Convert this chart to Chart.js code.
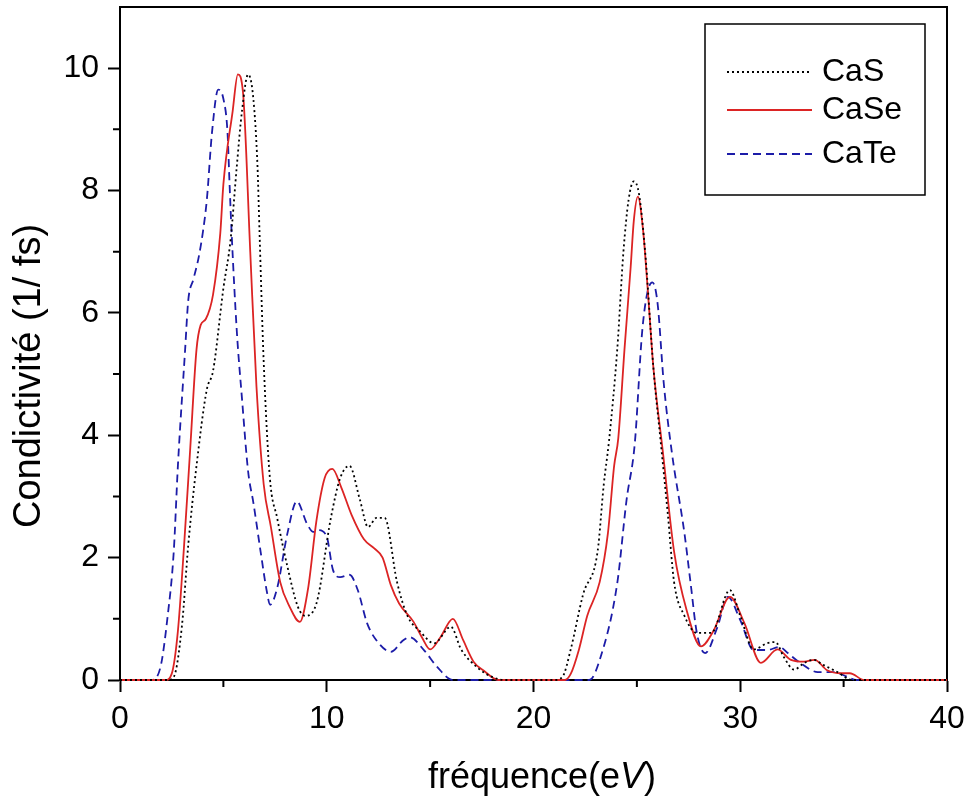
<!DOCTYPE html>
<html>
<head>
<meta charset="utf-8">
<script src="https://cdn.jsdelivr.net/npm/chart.js@4.4.1/dist/chart.umd.min.js"></script>
<style>
  html, body { margin: 0; padding: 0; background: #fff; }
  canvas { display: block; }
</style>
</head>
<body>
<canvas id="chart" width="968" height="803"></canvas>
<script>
// energies (eV) and conductivity (1/fs)
var seriesNames = ['CaS', 'CaSe', 'CaTe'];

var casEnergy = [0, 2.3, 2.6, 3.0, 3.3, 3.7, 4.2, 4.5, 5.0, 5.35, 5.65, 5.9, 6.2, 6.45, 6.65, 6.75, 6.95, 7.25, 7.6, 8.1,
  8.6, 8.95, 9.5, 10.2, 10.65, 11.1, 11.6, 12.0, 12.4, 12.8, 13.4, 13.9, 14.5, 15.2, 16.0, 16.5, 17.3, 18.0, 18.6, 21.0,
  21.4, 21.8, 22.4, 23.1, 23.4, 23.65, 24.05, 24.35, 24.6, 24.85, 25.1, 25.4, 25.8, 26.15, 26.5, 26.8, 27.3, 27.9, 28.6, 29.5,
  30.0, 30.65, 31.3, 31.7, 32.1, 32.6, 33.1, 33.55, 34.0, 34.7, 35.4, 40];
var casValues = [0, 0, 0.05, 0.9, 2.2, 3.5, 4.75, 5.05, 6.4, 7.2, 8.4, 9.3, 9.9, 9.5, 8.4, 7.3, 5.2, 3.3, 2.65, 1.85,
  1.2, 1.05, 1.25, 2.65, 3.3, 3.5, 2.95, 2.5, 2.65, 2.65, 1.6, 1.05, 0.8, 0.6, 0.87, 0.5, 0.2, 0.05, 0, 0,
  0.05, 0.5, 1.4, 2.1, 3.2, 3.9, 5.4, 7.0, 7.85, 8.15, 7.95, 7.0, 5.1, 3.9, 2.7, 1.6, 1.05, 0.77, 0.77, 1.47,
  1.05, 0.5, 0.6, 0.62, 0.38, 0.17, 0.28, 0.33, 0.25, 0.13, 0, 0];

var caseEnergy = [0, 2.2, 2.5, 2.8, 3.1, 3.4, 3.7, 3.9, 4.15, 4.5, 4.85, 5.0, 5.45, 5.7, 5.95, 6.3, 6.6, 6.95, 7.3, 7.75,
  8.2, 8.7, 9.1, 9.5, 9.9, 10.27, 10.7, 11.2, 11.8, 12.3, 12.7, 13.1, 13.5, 14.2, 14.6, 15.0, 15.5, 16.1, 16.6, 17.1,
  17.6, 18.3, 21.5, 21.8, 22.2, 22.6, 23.2, 23.6, 23.9, 24.1, 24.4, 24.7, 24.85, 25.05, 25.3, 25.5, 25.8, 26.25, 26.8, 27.4,
  28.1, 28.7, 29.5, 30.2, 31.0, 31.8, 32.45, 33.1, 33.6, 34.2, 34.9, 35.3, 36.0, 40];
var caseValues = [0, 0, 0.1, 0.8, 2.2, 3.8, 5.4, 5.8, 5.9, 6.3, 7.3, 8.1, 9.3, 9.9, 9.6, 7.0, 4.8, 3.2, 2.5, 1.6,
  1.2, 0.95, 1.5, 2.6, 3.3, 3.45, 3.15, 2.7, 2.3, 2.15, 2.0, 1.55, 1.25, 0.95, 0.7, 0.5, 0.7, 1.0, 0.65, 0.3,
  0.15, 0, 0, 0.1, 0.5, 1.05, 1.6, 2.4, 3.5, 3.95, 5.4, 6.75, 7.5, 7.9, 7.35, 6.5, 5.1, 3.75, 2.1, 1.15,
  0.55, 0.8, 1.36, 0.93, 0.28, 0.5, 0.33, 0.3, 0.33, 0.16, 0.11, 0.11, 0, 0];

var cateEnergy = [0, 1.5, 1.95, 2.3, 2.6, 2.8, 3.15, 3.3, 3.55, 3.8, 4.0, 4.2, 4.45, 4.75, 5.0, 5.2, 5.3, 5.4, 5.65, 5.9,
  6.2, 6.45, 6.8, 7.1, 7.26, 7.6, 8.1, 8.55, 9.05, 9.35, 9.6, 10.0, 10.3, 10.65, 11.1, 11.5, 11.95, 12.4, 13.1, 13.7,
  14.0, 14.7, 15.35, 16.1, 22.7, 23.25, 24.05, 24.5, 24.9, 25.25, 25.5, 25.75, 26.0, 26.3, 26.7, 27.3, 27.6, 27.9, 28.3, 28.9,
  29.4, 30.0, 30.65, 31.3, 31.9, 32.3, 32.9, 33.75, 34.5, 35.2, 35.6, 40];
var cateValues = [0, 0, 0.2, 1.03, 2.1, 3.5, 5.4, 6.2, 6.55, 6.9, 7.3, 7.85, 8.95, 9.65, 9.5, 8.95, 8.1, 7.3, 5.7, 4.6,
  3.4, 2.9, 2.1, 1.45, 1.23, 1.5, 2.4, 2.92, 2.55, 2.42, 2.45, 2.34, 1.8, 1.68, 1.72, 1.47, 0.93, 0.65, 0.46, 0.65,
  0.7, 0.49, 0.21, 0, 0, 0.38, 1.58, 2.94, 3.87, 5.67, 6.32, 6.5, 6.16, 4.85, 3.7, 2.4, 1.58, 0.77, 0.44, 0.87,
  1.36, 0.98, 0.49, 0.49, 0.54, 0.44, 0.28, 0.13, 0.13, 0.05, 0, 0];

var xTitle = ['fréquence(e', 'V', ')'];
var yTitle = 'Condictivité (1/ fs)';

function toPoints(xs, ys) {
  return xs.map(function (v, i) { return { x: v, y: ys[i] }; });
}

var FONT = "'Liberation Sans', Arial, sans-serif";

var decor = {
  id: 'decor',
  beforeDatasetsDraw: function (chart) {
    var ctx = chart.ctx, a = chart.chartArea, x = chart.scales.x, y = chart.scales.y;
    ctx.save();
    ctx.strokeStyle = '#000';
    ctx.lineWidth = 2;
    ctx.strokeRect(a.left, a.top, a.right - a.left, a.bottom - a.top);
    // minor ticks
    ctx.beginPath();
    for (var v = 5; v < 40; v += 10) {
      var px = x.getPixelForValue(v);
      ctx.moveTo(px, a.bottom); ctx.lineTo(px, a.bottom + 7);
    }
    for (var w = 1; w < 11; w += 2) {
      var py = y.getPixelForValue(w);
      ctx.moveTo(a.left, py); ctx.lineTo(a.left - 7, py);
    }
    ctx.stroke();
    ctx.restore();
  },
  afterDraw: function (chart) {
    var ctx = chart.ctx, a = chart.chartArea;
    ctx.save();
    ctx.fillStyle = '#000';

    // y title
    ctx.save();
    ctx.translate(30, 376);
    ctx.rotate(-Math.PI / 2);
    ctx.font = '38px ' + FONT;
    ctx.textAlign = 'center';
    ctx.textBaseline = 'middle';
    ctx.fillText(yTitle, 0, 0);
    ctx.restore();

    // x title, with italic V
    ctx.textBaseline = 'alphabetic';
    ctx.textAlign = 'left';
    var fN = '36px ' + FONT, fI = 'italic 36px ' + FONT;
    ctx.font = fN; var w0 = ctx.measureText(xTitle[0]).width, w2 = ctx.measureText(xTitle[2]).width;
    ctx.font = fI; var w1 = ctx.measureText(xTitle[1]).width;
    var sx = 542 - (w0 + w1 + w2) / 2, by = 788;
    ctx.font = fN; ctx.fillText(xTitle[0], sx, by);
    ctx.font = fI; ctx.fillText(xTitle[1], sx + w0, by);
    ctx.font = fN; ctx.fillText(xTitle[2], sx + w0 + w1, by);

    // legend
    var bx = a.right - 242, byy = a.top + 17, bw = 220, bh = 171;
    ctx.fillStyle = '#fff';
    ctx.fillRect(bx, byy, bw, bh);
    ctx.strokeStyle = '#000';
    ctx.lineWidth = 1.5;
    ctx.strokeRect(bx, byy, bw, bh);
    var rows = [48, 86, 130];
    chart.data.datasets.forEach(function (ds, i) {
      var ly = byy + rows[i];
      ctx.save();
      ctx.strokeStyle = ds.borderColor;
      ctx.lineWidth = ds.borderWidth;
      ctx.setLineDash(ds.borderDash || []);
      ctx.beginPath();
      ctx.moveTo(bx + 22, ly); ctx.lineTo(bx + 107, ly);
      ctx.stroke();
      ctx.restore();
      ctx.fillStyle = '#000';
      ctx.font = '32px ' + FONT;
      ctx.textBaseline = 'middle';
      ctx.fillText(ds.label, bx + 117, ly);
    });
    ctx.restore();
  }
};

function noOverhang(s) {
  s.paddingTop = 0; s.paddingBottom = 0; s.paddingLeft = 0; s.paddingRight = 0;
}

new Chart(document.getElementById('chart'), {
  type: 'line',
  data: {
    datasets: [
      { label: seriesNames[0], data: toPoints(casEnergy, casValues), borderColor: '#000000', borderWidth: 1.8, borderDash: [2, 3] },
      { label: seriesNames[1], data: toPoints(caseEnergy, caseValues), borderColor: '#dc2424', borderWidth: 1.8 },
      { label: seriesNames[2], data: toPoints(cateEnergy, cateValues), borderColor: '#1c1ca8', borderWidth: 1.8, borderDash: [8, 5] }
    ]
  },
  options: {
    responsive: false,
    animation: false,
    events: [],
    layout: { padding: { top: 7, right: 21, left: 0, bottom: 0 } },
    elements: {
      point: { radius: 0 },
      line: { cubicInterpolationMode: 'monotone', fill: false }
    },
    datasets: { line: { clip: 4 } },
    plugins: { legend: { display: false }, tooltip: { enabled: false } },
    scales: {
      x: {
        type: 'linear', min: 0, max: 40,
        ticks: { stepSize: 10, color: '#000', padding: 8, maxRotation: 0, font: { size: 32, family: FONT } },
        grid: { drawOnChartArea: false, drawTicks: true, tickLength: 12, tickWidth: 2, tickColor: '#000' },
        border: { color: '#000', width: 2 },
        afterFit: function (s) { s.height = 123; noOverhang(s); }
      },
      y: {
        min: 0, max: 11,
        ticks: { stepSize: 2, color: '#000', padding: 9, font: { size: 32, family: FONT } },
        grid: { drawOnChartArea: false, drawTicks: true, tickLength: 12, tickWidth: 2, tickColor: '#000' },
        border: { color: '#000', width: 2 },
        afterBuildTicks: function (s) { s.ticks = s.ticks.filter(function (t) { return t.value <= 10 && t.value % 2 === 0; }); },
        afterFit: function (s) { s.width = 120; noOverhang(s); }
      }
    }
  },
  plugins: [decor]
});
</script>
</body>
</html>
